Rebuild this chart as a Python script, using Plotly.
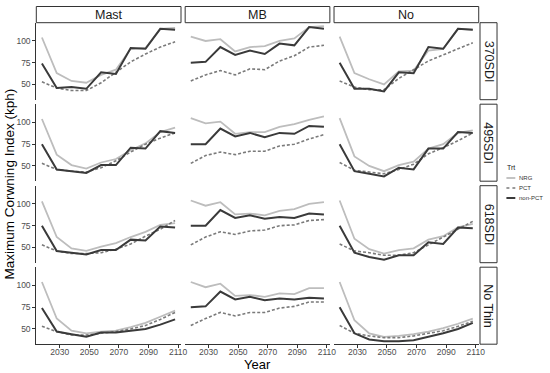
import plotly.graph_objects as go

W, H = 550, 373

years = [2018, 2028, 2038, 2048, 2058, 2068, 2078, 2088, 2098, 2108]
cols = ["Mast", "MB", "No"]
rows = ["370SDI", "495SDI", "618SDI", "No Thin"]
treatments = ["NRG", "PCT", "non-PCT"]

# values[row][col][treatment]
nrg_370 = {
    "Mast": [104, 63, 54, 52, 61, 67, 91, 92, 114, 115],
    "MB":   [105, 100, 102, 88, 93, 94, 100, 103, 116, 117],
    "No":   [105, 63, 56, 50, 65, 66, 89, 91, 114, 113],
}
pct_370 = {
    "Mast": [53, 46, 43, 43, 52, 64, 76, 85, 93, 99],
    "MB":   [54, 61, 66, 61, 68, 67, 77, 83, 93, 95],
    "No":   [54, 47, 44, 44, 57, 67, 77, 84, 91, 98],
}
non_370 = {
    "Mast": [74, 46, 47, 45, 64, 62, 92, 91, 114, 113],
    "MB":   [75, 76, 93, 84, 89, 85, 97, 95, 116, 114],
    "No":   [75, 45, 45, 42, 64, 63, 93, 91, 114, 113],
}

nrg_495 = {
    "Mast": [104, 63, 51, 47, 54, 58, 68, 76, 89, 94],
    "MB":   [105, 99, 101, 87, 89, 89, 95, 98, 103, 107],
    "No":   [105, 61, 50, 44, 51, 55, 70, 75, 88, 91],
}
pct_495 = {
    "Mast": [53, 46, 44, 43, 48, 56, 66, 75, 82, 88],
    "MB":   [53, 62, 66, 63, 67, 67, 73, 75, 81, 86],
    "No":   [54, 45, 43, 41, 46, 52, 64, 71, 79, 88],
}
non_495 = {
    "Mast": [75, 46, 44, 42, 51, 51, 71, 70, 90, 88],
    "MB":   [75, 75, 93, 84, 88, 83, 88, 87, 96, 95],
    "No":   [75, 44, 41, 38, 48, 46, 70, 70, 89, 88],
}

nrg_618 = {
    "Mast": [103, 62, 49, 46, 51, 55, 62, 68, 76, 78],
    "MB":   [104, 98, 102, 88, 89, 87, 92, 94, 100, 102],
    "No":   [104, 60, 48, 43, 47, 49, 59, 63, 73, 77],
}
pct_618 = {
    "Mast": [53, 46, 43, 43, 44, 48, 54, 63, 71, 81],
    "MB":   [53, 62, 68, 65, 69, 70, 75, 76, 81, 82],
    "No":   [54, 46, 44, 41, 41, 44, 53, 62, 71, 80],
}
non_618 = {
    "Mast": [75, 46, 44, 42, 47, 47, 59, 58, 74, 73],
    "MB":   [75, 75, 93, 84, 87, 83, 85, 84, 89, 88],
    "No":   [75, 44, 39, 36, 41, 41, 56, 54, 73, 72],
}

nrg_nothin = {
    "Mast": [104, 62, 48, 45, 47, 48, 52, 57, 64, 71],
    "MB":   [104, 98, 102, 88, 89, 87, 91, 90, 97, 97],
    "No":   [104, 60, 45, 41, 42, 44, 47, 51, 56, 62],
}
pct_nothin = {
    "Mast": [53, 47, 43, 43, 45, 47, 50, 54, 61, 69],
    "MB":   [54, 62, 69, 65, 69, 69, 74, 76, 81, 81],
    "No":   [54, 45, 42, 40, 40, 42, 45, 48, 53, 59],
}
non_nothin = {
    "Mast": [74, 47, 44, 41, 46, 46, 48, 50, 55, 61],
    "MB":   [75, 76, 93, 84, 87, 83, 85, 84, 86, 85],
    "No":   [75, 45, 38, 36, 36, 37, 41, 45, 50, 57],
}

data = {
    "370SDI": {"NRG": nrg_370, "PCT": pct_370, "non-PCT": non_370},
    "495SDI": {"NRG": nrg_495, "PCT": pct_495, "non-PCT": non_495},
    "618SDI": {"NRG": nrg_618, "PCT": pct_618, "non-PCT": non_618},
    "No Thin": {"NRG": nrg_nothin, "PCT": pct_nothin, "non-PCT": non_nothin},
}

x_ticks = [2030, 2050, 2070, 2090, 2110]
y_ticks = [50, 75, 100]

styles = {
    "NRG": dict(color="#BDBDBD", width=1.8, dash="solid"),
    "PCT": dict(color="#7A7A7A", width=1.6, dash="3px,2px"),
    "non-PCT": dict(color="#3A3A3A", width=2.0, dash="solid"),
}

# panel pixel geometry
col_px = [(36.7, 183.0), (187.2, 333.5), (337.7, 484.0)]
row_px = [(22.7, 99.7), (104.2, 181.2), (185.7, 262.7), (267.2, 344.2)]

fig = go.Figure()
layout = dict(
    width=W, height=H, margin=dict(l=0, r=0, t=0, b=0),
    paper_bgcolor="white", plot_bgcolor="white", showlegend=False,
    font=dict(family="Liberation Sans, Arial, sans-serif", color="#4D4D4D"),
)
shapes = []
annotations = []

for r, rname in enumerate(rows):
    for c, cname in enumerate(cols):
        k = r * 3 + c + 1
        xs = "" if k == 1 else str(k)
        for t in treatments:
            st = styles[t]
            fig.add_trace(go.Scatter(
                x=years, y=data[rname][t][cname], mode="lines", name=t,
                line=dict(color=st["color"], width=st["width"], dash=st["dash"]),
                xaxis="x" + xs, yaxis="y" + xs, hoverinfo="skip",
            ))
        x0, x1 = col_px[c]
        y0, y1 = row_px[r]
        bottom = r == len(rows) - 1
        left = c == 0
        layout["xaxis" + xs] = dict(
            domain=[x0 / W, x1 / W], anchor="y" + xs, range=[2014.2, 2112],
            showgrid=False, zeroline=False,
            showline=bottom, linecolor="#333333", linewidth=1,
            ticks="outside" if bottom else "", ticklen=3, tickcolor="#333333",
            tickvals=x_ticks, showticklabels=bottom, ticklabelstandoff=-3,
            tickfont=dict(size=8.5, color="#4D4D4D"),
        )
        layout["yaxis" + xs] = dict(
            domain=[(H - y1) / H, (H - y0) / H], anchor="x" + xs, range=[32.5, 121],
            showgrid=False, zeroline=False,
            showline=left, linecolor="#333333", linewidth=1,
            ticks="outside" if left else "", ticklen=3, tickcolor="#333333",
            tickvals=y_ticks, showticklabels=left,
            tickfont=dict(size=8.5, color="#4D4D4D"),
        )

# top strips
for c, cname in enumerate(cols):
    x0, x1 = col_px[c]
    shapes.append(dict(type="rect", xref="paper", yref="paper",
                       x0=x0 / W, x1=x1 / W, y0=(H - 22.7) / H, y1=(H - 6.5) / H,
                       fillcolor="white", line=dict(color="#333333", width=1)))
    annotations.append(dict(text=cname, xref="paper", yref="paper",
                            x=(x0 + x1) / 2 / W, y=(H - 14.6) / H, showarrow=False,
                            font=dict(size=12.5, color="#1A1A1A"),
                            xanchor="center", yanchor="middle"))

# right strips
for r, rname in enumerate(rows):
    y0, y1 = row_px[r]
    shapes.append(dict(type="rect", xref="paper", yref="paper",
                       x0=485.3 / W, x1=502.5 / W, y0=(H - y1) / H, y1=(H - y0) / H,
                       fillcolor="white", line=dict(color="#333333", width=1)))
    annotations.append(dict(text=rname, xref="paper", yref="paper",
                            x=493.9 / W, y=(H - (y0 + y1) / 2) / H, showarrow=False,
                            textangle=90, font=dict(size=12.5, color="#1A1A1A"),
                            xanchor="center", yanchor="middle"))

# axis titles
annotations.append(dict(text="Year", xref="paper", yref="paper",
                        x=(36.7 + 484.0) / 2 / W, y=(H - 364) / H, showarrow=False,
                        font=dict(size=13, color="#000000"),
                        xanchor="center", yanchor="middle"))
annotations.append(dict(text="Maximum Corwning Index (kph)", xref="paper", yref="paper",
                        x=10 / W, y=(H - 183.5) / H, showarrow=False, textangle=-90,
                        font=dict(size=13.5, color="#000000"),
                        xanchor="center", yanchor="middle"))

# legend (drawn manually to match small ggplot keys)
annotations.append(dict(text="Trt", xref="paper", yref="paper",
                        x=511 / W, y=(H - 167) / H, showarrow=False,
                        font=dict(size=7, color="#1A1A1A"),
                        xanchor="left", yanchor="middle"))
leg_y = [178, 188, 198]
for t, yy in zip(treatments, leg_y):
    st = styles[t]
    shapes.append(dict(type="line", xref="paper", yref="paper",
                       x0=512 / W, x1=521 / W, y0=(H - yy) / H, y1=(H - yy) / H,
                       line=dict(color=st["color"], width=st["width"],
                                 dash="dot" if t == "PCT" else "solid")))
    annotations.append(dict(text=t, xref="paper", yref="paper",
                            x=523 / W, y=(H - yy) / H, showarrow=False,
                            font=dict(size=6, color="#333333"),
                            xanchor="left", yanchor="middle"))

layout["shapes"] = shapes
layout["annotations"] = annotations
fig.update_layout(**layout)
fig.write_html(
    "out.html",
    config={"displayModeBar": False},
    post_script="document.body.style.margin='0';document.body.style.padding='0';",
)
